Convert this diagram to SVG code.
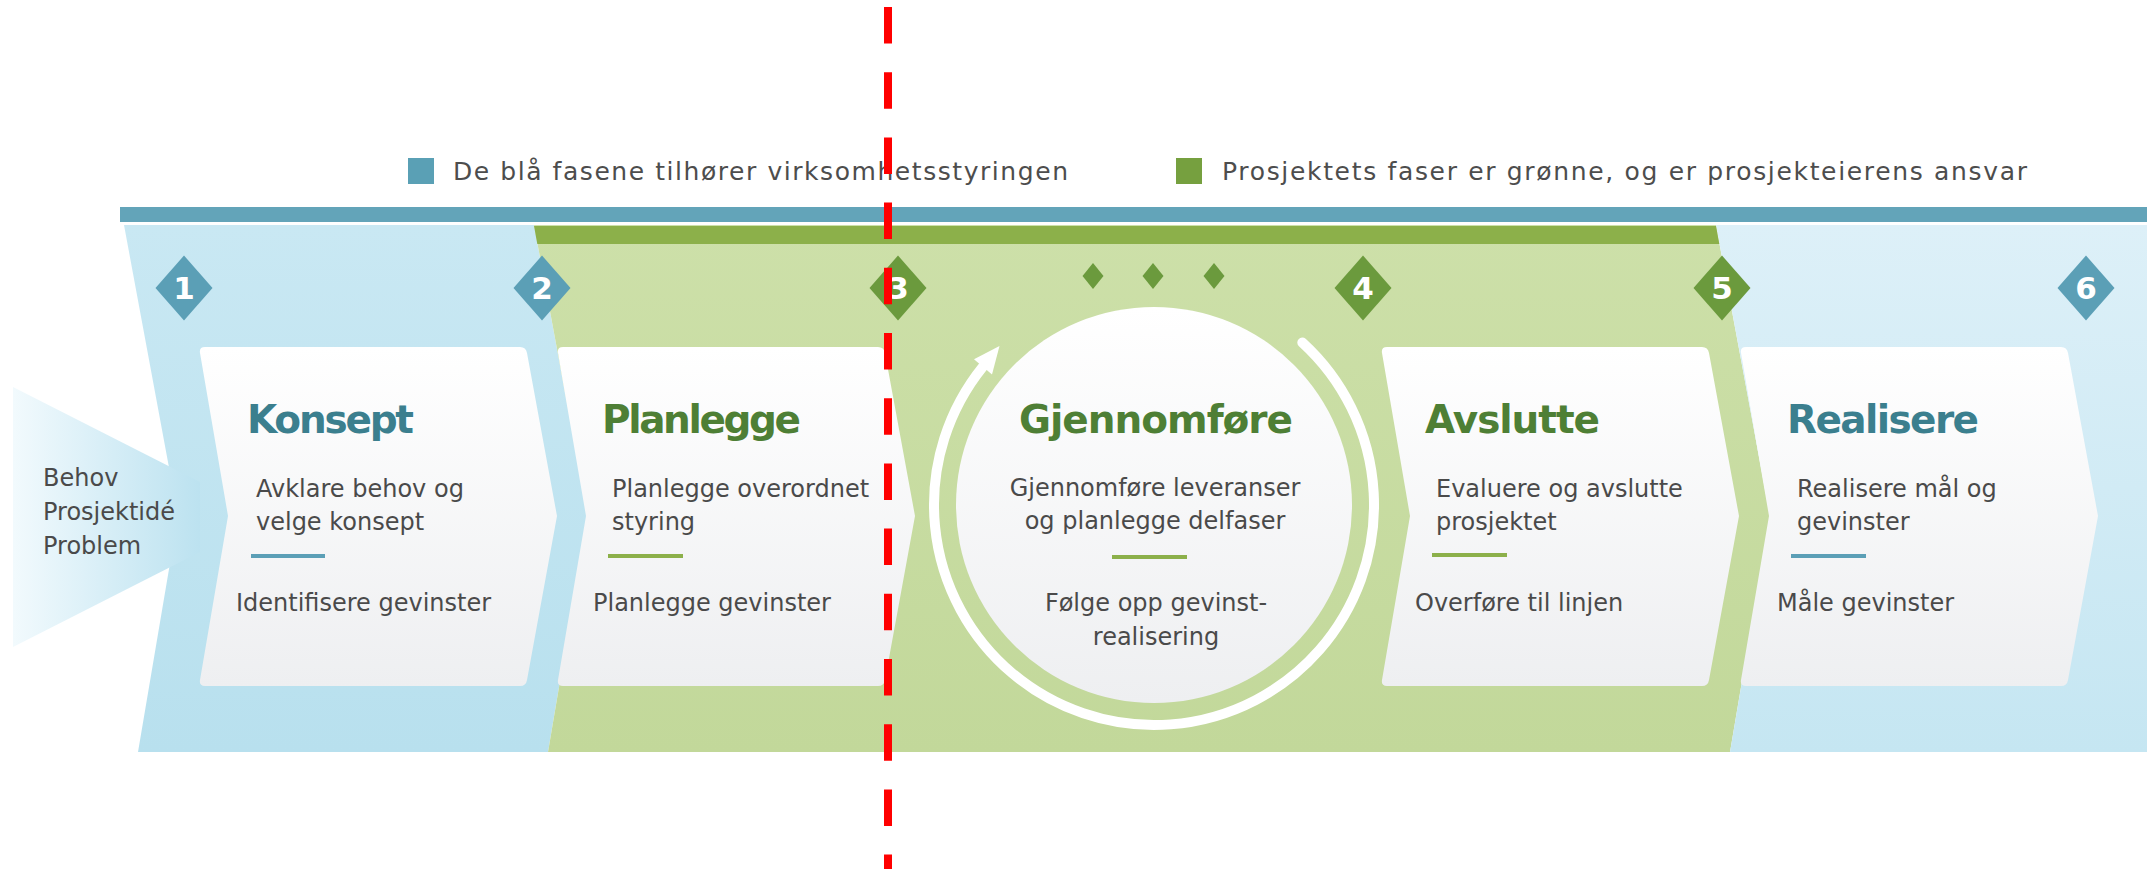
<svg xmlns="http://www.w3.org/2000/svg" xmlns:xlink="http://www.w3.org/1999/xlink" width="2147" height="869" viewBox="0 0 2147 869">
<defs>
<style>
.body{font-family:"DejaVu Sans","Liberation Sans",sans-serif;font-size:24px;fill:#4a4a4a}
.title{font-family:"DejaVu Sans","Liberation Sans",sans-serif;font-size:39px;font-weight:bold}
.tb{fill:#3b7f8e}
.tg{fill:#4e7f35}
.num{font-family:"DejaVu Sans","Liberation Sans",sans-serif;font-size:31px;font-weight:bold;fill:#ffffff;text-anchor:middle}
.legend{font-family:"DejaVu Sans","Liberation Sans",sans-serif;font-size:25px;fill:#4d4d4d}
.ulb{stroke:#5b9fb6;stroke-width:4}
.ulg{stroke:#8cb04a;stroke-width:4}
.db{fill:#5b9fb6}
.dg{fill:#6b9a3d}
</style>
<linearGradient id="gBlue1" x1="0" y1="0" x2="0" y2="1">
<stop offset="0" stop-color="#c9e8f3"/><stop offset="1" stop-color="#b8e0ee"/>
</linearGradient>
<linearGradient id="gBlue2" x1="0" y1="0" x2="0" y2="1">
<stop offset="0" stop-color="#ddf0f8"/><stop offset="1" stop-color="#c5e6f2"/>
</linearGradient>
<linearGradient id="gGreen" x1="0" y1="0" x2="0" y2="1">
<stop offset="0" stop-color="#cde0a9"/><stop offset="1" stop-color="#c2d89a"/>
</linearGradient>
<linearGradient id="gCard" x1="0" y1="0" x2="0" y2="1">
<stop offset="0" stop-color="#ffffff"/><stop offset="1" stop-color="#eeeff1"/>
</linearGradient>
<linearGradient id="gBehov" x1="0" y1="0" x2="1" y2="0">
<stop offset="0" stop-color="#f2fafd"/><stop offset="1" stop-color="#bce2f0"/>
</linearGradient>
<path id="card" d="M6,347 L321,347 Q327,347 328,353 L358,516 L328,680 Q327,686 321,686 L6,686 Q0,686 1,680 L29,516 L1,353 Q0,347 6,347 Z" fill="url(#gCard)"/>
<path id="dia" d="M0,-32.5 L28.5,0 L0,32.5 L-28.5,0 Z"/>
<path id="sdia" d="M0,-13 L10.5,0 L0,13 L-10.5,0 Z"/>
</defs>

<rect width="2147" height="869" fill="#ffffff"/>

<g id="legend">
<rect x="408" y="158" width="26" height="26" fill="#5aa0b5"/>
<text class="legend" x="453" y="180" textLength="615">De blå fasene tilhører virksomhetsstyringen</text>
<rect x="1176" y="158" width="26" height="26" fill="#76a03f"/>
<text class="legend" x="1222" y="180" textLength="805">Prosjektets faser er grønne, og er prosjekteierens ansvar</text>
</g>

<g id="band">
<rect x="120" y="207" width="2027" height="15" fill="#63a4b9"/>
<polygon points="124,225 534,225 588,516 548,752 138,752 178,516" fill="url(#gBlue1)"/>
<polygon points="534,225 1716,225 1770,516 1730,752 548,752 588,516" fill="url(#gGreen)"/>
<polygon points="1716,225 2147,225 2147,752 1730,752 1770,516" fill="url(#gBlue2)"/>
<polygon points="534,226 1716,226 1719.3,244 537.3,244" fill="#8cb04a"/>
</g>

<g id="behov">
<polygon points="13,387 200,482 200,552 13,647" fill="url(#gBehov)"/>
<text class="body" x="43" y="486">Behov</text>
<text class="body" x="43" y="520">Prosjektidé</text>
<text class="body" x="43" y="554">Problem</text>
</g>

<g id="milestones">
<use xlink:href="#dia" href="#dia" class="db" x="184" y="288"/>
<text class="num" x="184" y="299">1</text>
<use xlink:href="#dia" href="#dia" class="db" x="542" y="288"/>
<text class="num" x="542" y="299">2</text>
<use xlink:href="#dia" href="#dia" class="dg" x="898" y="288"/>
<text class="num" x="898" y="299">3</text>
<use xlink:href="#dia" href="#dia" class="dg" x="1363" y="288"/>
<text class="num" x="1363" y="299">4</text>
<use xlink:href="#dia" href="#dia" class="dg" x="1722" y="288"/>
<text class="num" x="1722" y="299">5</text>
<use xlink:href="#dia" href="#dia" class="db" x="2086" y="288"/>
<text class="num" x="2086" y="299">6</text>
<use xlink:href="#sdia" href="#sdia" class="dg" x="1093" y="276"/>
<use xlink:href="#sdia" href="#sdia" class="dg" x="1153" y="276"/>
<use xlink:href="#sdia" href="#sdia" class="dg" x="1214" y="276"/>
</g>

<g id="konsept">
<use xlink:href="#card" href="#card" x="199"/>
<text class="title tb" x="247" y="433" textLength="167">Konsept</text>
<text class="body" x="256" y="497">Avklare behov og</text>
<text class="body" x="256" y="530">velge konsept</text>
<line class="ulb" x1="251" y1="556" x2="325" y2="556"/>
<text class="body" x="236" y="611">Identifisere gevinster</text>
</g>

<g id="planlegge">
<use xlink:href="#card" href="#card" x="557"/>
<text class="title tg" x="602" y="433" textLength="199">Planlegge</text>
<text class="body" x="612" y="497">Planlegge overordnet</text>
<text class="body" x="612" y="530">styring</text>
<line class="ulg" x1="608" y1="556" x2="683" y2="556"/>
<text class="body" x="593" y="611">Planlegge gevinster</text>
</g>

<g id="gjennomfore">
<circle cx="1154" cy="505" r="198" fill="url(#gCard)"/>
<path d="M1302.3,342.5 A220,220 0 1 1 983,366.6" fill="none" stroke="#ffffff" stroke-width="10" stroke-linecap="round"/>
<polygon points="999.5,346 992,374.5 974,359.2" fill="#ffffff"/>
<text class="title tg" x="1156" y="433" text-anchor="middle" textLength="274">Gjennomføre</text>
<text class="body" x="1155" y="496" text-anchor="middle">Gjennomføre leveranser</text>
<text class="body" x="1155" y="529" text-anchor="middle">og planlegge delfaser</text>
<line class="ulg" x1="1112" y1="557" x2="1187" y2="557"/>
<text class="body" x="1156" y="611" text-anchor="middle">Følge opp gevinst-</text>
<text class="body" x="1156" y="645" text-anchor="middle">realisering</text>
</g>

<g id="avslutte">
<use xlink:href="#card" href="#card" x="1381"/>
<text class="title tg" x="1425" y="433" textLength="175">Avslutte</text>
<text class="body" x="1436" y="497">Evaluere og avslutte</text>
<text class="body" x="1436" y="530">prosjektet</text>
<line class="ulg" x1="1432" y1="555" x2="1507" y2="555"/>
<text class="body" x="1415" y="611">Overføre til linjen</text>
</g>

<g id="realisere">
<use xlink:href="#card" href="#card" x="1740"/>
<text class="title tb" x="1787" y="433" textLength="192">Realisere</text>
<text class="body" x="1797" y="497">Realisere mål og</text>
<text class="body" x="1797" y="530">gevinster</text>
<line class="ulb" x1="1791" y1="556" x2="1866" y2="556"/>
<text class="body" x="1777" y="611">Måle gevinster</text>
</g>

<g id="connectors">
<line x1="888" y1="7" x2="888" y2="869" stroke="#ff0000" stroke-width="8" stroke-dasharray="36.5 28.7"/>
</g>
</svg>
